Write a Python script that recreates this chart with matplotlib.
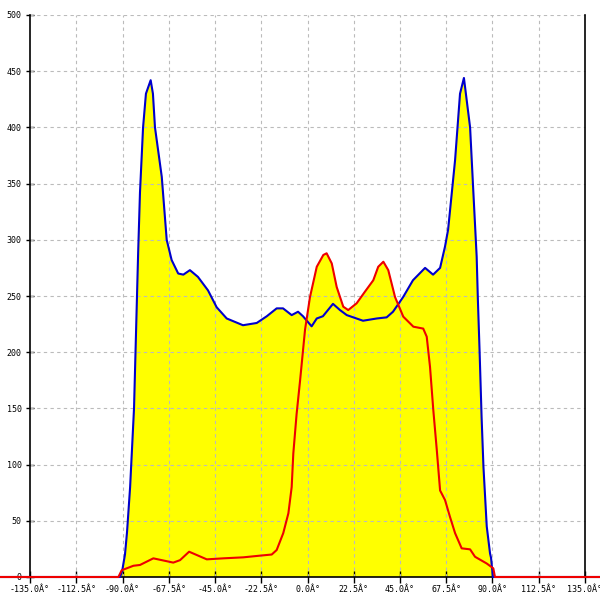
import matplotlib
matplotlib.use("Agg")
import matplotlib.pyplot as plt

# angle (degrees) / value pairs
blue_x = [-150, -91.2, -90.2, -88.8, -87.8, -86.3, -84.4, -82.4, -81.5, -80.0, -78.6, -76.3,
          -75.2, -74.2, -70.9, -68.5, -66.1, -62.9, -60.4, -57.2, -53.3, -48.4, -44.2, -39.3,
          -31.4, -24.7, -19.8, -15.0, -11.9, -7.7, -4.6, -2.2, 2.0, 4.5, 7.5, 12.4, 15.8, 19.1,
          27.0, 33.7, 38.5, 41.6, 46.5, 51.3, 57.2, 61.1, 64.5, 66.9, 68.4, 71.8, 74.2, 76.1,
          79.1, 80.7, 82.3, 82.9, 83.7, 84.7, 85.6, 87.2, 88.8, 89.3, 90.2, 150]
blue_y = [0, 0, 5, 20, 40, 80, 150, 288, 342, 400, 430, 442,
          430, 400, 356, 300, 282, 270, 269, 273, 267, 255, 240, 230,
          224, 226, 232, 239, 239, 233, 236, 232, 223, 230, 232, 243, 237.5, 233,
          228, 230, 231, 236, 249, 264, 275, 269, 275, 294, 309, 371, 430, 444,
          400, 342, 285, 246, 202, 142, 98, 45, 21, 17, 0, 0]

red_x = [-150, -92.0, -90.4, -84.7, -81.5, -75.0, -65.3, -62.0, -57.6, -49.0, -41.0, -31.2,
         -23.1, -17.4, -15.0, -11.8, -9.3, -7.7, -6.9, -5.3, -3.6, -1.2, 1.2, 4.5, 7.7, 9.3,
         11.8, 14.2, 17.4, 19.8, 23.9, 28.0, 32.0, 34.4, 36.9, 39.3, 42.6, 46.6, 51.5, 56.3,
         58.0, 59.6, 61.2, 62.9, 64.5, 66.9, 69.3, 71.8, 75.0, 79.1, 81.5, 87.2, 90.4, 91.2, 150]
red_y = [0, 0, 6, 10, 10.7, 16.6, 12.8, 15, 22.5, 15.7, 16.6, 17.5,
         19, 20, 24, 39, 56.7, 80, 110, 145, 175, 220, 249, 276, 286.5, 288,
         279, 258, 240.5, 237.5, 243.5, 254, 264, 276, 280.5, 273, 249, 231.6, 222.7, 221,
         213.8, 187, 148.6, 113, 77, 68.5, 53.6, 39, 25.5, 24.6, 18, 12, 7.7, 0, 0]

x_ticks = [-135 + 22.5 * i for i in range(13)]
x_labels = ['%.1fÂ°' % t for t in x_ticks]
y_ticks = list(range(0, 501, 50))

fig = plt.figure(figsize=(6, 6), dpi=100)
ax = fig.add_axes([0, 23 / 600, 1, 562 / 600])
ax.set_xlim(-149.6, 142.3)
ax.set_ylim(0, 500)

ax.fill_between(blue_x, blue_y, 0, color='#ffff00', linewidth=0, zorder=1)
ax.fill_between(red_x, red_y, 0, color='#ffff00', linewidth=0, zorder=1)
ax.plot(blue_x, blue_y, color='#0000cc', linewidth=1.5, zorder=4, clip_on=False)
ax.plot(red_x, red_y, color='#ee0000', linewidth=1.5, zorder=5, clip_on=False)

# dashed grid inside the -135..135 frame, drawn over the fill
for t in x_ticks[1:-1]:
    ax.plot([t, t], [0, 500], color='#bbbbbb', linewidth=0.8, linestyle=(0, (3, 3)), zorder=2)
for t in y_ticks[1:]:
    ax.plot([-135, 135], [t, t], color='#bbbbbb', linewidth=0.8, linestyle=(0, (3, 3)), zorder=2)

ax.spines['top'].set_visible(False)
ax.spines['left'].set_position(('data', -135))
ax.spines['right'].set_position(('data', 135))
for s in ['left', 'right', 'bottom']:
    ax.spines[s].set_color('black')
    ax.spines[s].set_linewidth(1.2)
    ax.spines[s].set_zorder(3)

ax.set_xticks(x_ticks)
ax.set_xticklabels(x_labels, family='DejaVu Sans Mono', fontsize=6)
ax.set_yticks(y_ticks)
ax.set_yticklabels([str(v) for v in y_ticks], family='DejaVu Sans Mono', fontsize=6)
ax.tick_params(axis='x', direction='inout', length=8, width=1, pad=2)
ax.tick_params(axis='y', direction='inout', length=6, width=1, pad=3, right=False)

fig.savefig('out.png', dpi=100)
